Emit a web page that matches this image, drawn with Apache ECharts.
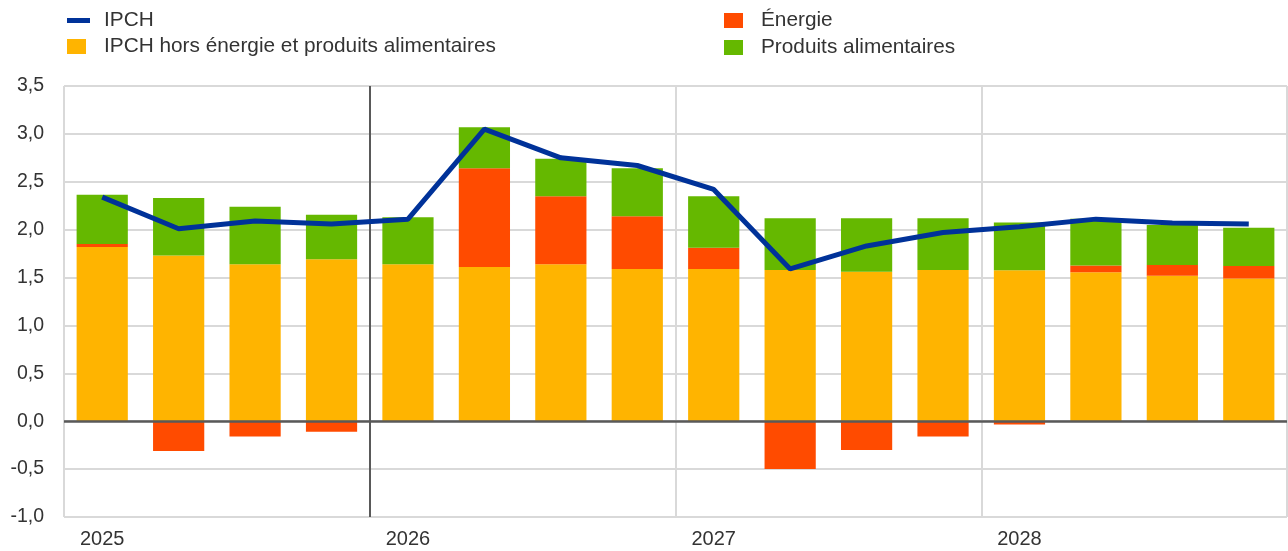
<!DOCTYPE html>
<html>
<head>
<meta charset="utf-8">
<script src="https://cdn.jsdelivr.net/npm/echarts@6/dist/echarts.min.js"></script>
<style>html,body{margin:0;padding:0;background:#fff}#c{width:1288px;height:551px}</style>
</head>
<body>
<div id="c"></div>
<script>
const quarters = ['2025T1','2025T2','2025T3','2025T4','2026T1','2026T2','2026T3','2026T4','2027T1','2027T2','2027T3','2027T4','2028T1','2028T2','2028T3','2028T4'];
const yearLabels = ['2025','2026','2027','2028'];
const ipch   = [2.34, 2.01, 2.09, 2.06, 2.11, 3.05, 2.75, 2.67, 2.42, 1.59, 1.83, 1.97, 2.03, 2.11, 2.07, 2.06];
const core   = [1.82, 1.73, 1.64, 1.69, 1.64, 1.61, 1.64, 1.59, 1.59, 1.58, 1.56, 1.58, 1.575, 1.555, 1.52, 1.49];
const energy = [0.03, -0.31, -0.16, -0.11, 0.0, 1.03, 0.71, 0.55, 0.22, -0.50, -0.30, -0.16, -0.035, 0.07, 0.11, 0.13];
const food   = [0.515, 0.60, 0.60, 0.465, 0.49, 0.43, 0.39, 0.50, 0.54, 0.54, 0.56, 0.54, 0.50, 0.49, 0.42, 0.40];
const names = ['IPCH', 'IPCH hors énergie et produits alimentaires', 'Énergie', 'Produits alimentaires'];

const FONT = 'Liberation Sans, Arial, sans-serif';
const TXT = '#333333';
const BLUE = '#003299', YELLOW = '#FFB400', RED = '#FF4B00', GREEN = '#65B800';
const chart = echarts.init(document.getElementById('c'), null, {renderer: 'canvas'});
const legendText = pad => ({fontFamily: FONT, fontSize: 20.8, lineHeight: 20, color: TXT, padding: [0, 0, 0, pad]});
chart.setOption({
  animation: false,
  legend: [
    {left: 67, top: 10, padding: 0, itemWidth: 23, itemHeight: 5, icon: 'rect', data: [names[0]], textStyle: legendText(9), selectedMode: false},
    {left: 67, top: 36, padding: 0, itemWidth: 19, itemHeight: 15, icon: 'rect', data: [names[1]], textStyle: legendText(13), selectedMode: false},
    {left: 724, top: 10, padding: 0, orient: 'vertical', itemGap: 6, itemWidth: 19, itemHeight: 15, icon: 'rect', data: [names[2], names[3]], textStyle: legendText(13), selectedMode: false}
  ],
  grid: {left: 64, right: 1, top: 86, bottom: 34},
  xAxis: {
    type: 'category', data: quarters, boundaryGap: true,
    axisLine: {show: false}, axisTick: {show: false},
    axisLabel: {interval: 0, margin: 12, fontFamily: FONT, fontSize: 20, color: TXT,
      formatter: (v, i) => (i % 4 === 0 ? yearLabels[i / 4] : '')},
    splitLine: {show: true, interval: (i) => i % 4 === 0,
      lineStyle: {color: ['#d9d9d9', '#595959', '#d9d9d9', '#d9d9d9', '#d9d9d9'], width: 2}}
  },
  yAxis: {
    type: 'value', min: -1, max: 3.5, interval: 0.5,
    axisLine: {show: false}, axisTick: {show: false},
    axisLabel: {margin: 20, fontFamily: FONT, fontSize: 19.5, color: TXT,
      formatter: v => v.toFixed(1).replace('.', ',')},
    splitLine: {lineStyle: {color: '#d9d9d9', width: 2}}
  },
  series: [
    {name: names[1], type: 'bar', stack: 'a', data: core, barWidth: '67%', z: 2,
      itemStyle: {color: YELLOW},
      markLine: {silent: true, symbol: 'none', label: {show: false},
        lineStyle: {color: '#595959', width: 2.5, type: 'solid'}, data: [{yAxis: 0}]}},
    {name: names[2], type: 'bar', stack: 'a', data: energy, barWidth: '67%', z: 2, itemStyle: {color: RED}},
    {name: names[3], type: 'bar', stack: 'a', data: food, barWidth: '67%', z: 2, itemStyle: {color: GREEN}},
    {name: names[0], type: 'line', data: ipch, symbol: 'none', z: 5,
      itemStyle: {color: BLUE}, lineStyle: {width: 5, color: BLUE}}
  ]
});
</script>
</body>
</html>
